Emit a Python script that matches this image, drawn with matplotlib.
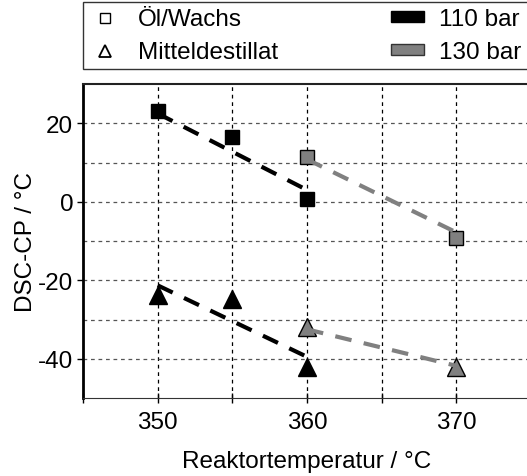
import matplotlib.pyplot as plt
import numpy as np
from matplotlib.lines import Line2D
from matplotlib.patches import Patch

plt.rcParams['font.family'] = ['Liberation Sans', 'DejaVu Sans']
plt.rcParams['axes.unicode_minus'] = False

# Öl/Wachs
oel_110_T = [350, 355, 360]
oel_110_cp = [23.0, 16.5, 0.8]
oel_130_T = [360, 370]
oel_130_cp = [11.4, -9.3]
# Mitteldestillat
md_110_T = [350, 355, 360]
md_110_cp = [-23.7, -24.8, -42.2]
md_130_T = [360, 370]
md_130_cp = [-31.8, -42.2]

# trend lines
oel_110_fit = [22.5, 3.0]
oel_130_fit = [10.8, -7.8]
md_110_fit = [-21.3, -39.5]
md_130_fit = [-32.5, -41.8]

black = 'black'
grey = '#808080'
fs = 17.5

fig = plt.figure(figsize=(5.27, 4.77), dpi=100)
ax = fig.add_axes([0.1575, 0.1635, 0.85, 0.6583])

ax.set_xlim(345, 375)
ax.set_ylim(-50, 30)

# grid
for x in [350, 355, 360, 365, 370]:
    ax.axvline(x, color='black', lw=0.9, ls=(0, (3, 3)), zorder=1)
for y in [20, 10, 0, -10, -20, -30, -40]:
    ax.axhline(y, color='#555555', lw=0.9, ls=(0, (3, 3)), zorder=1)

dash = (0, (4, 3))
ax.plot(md_110_T[::2], md_110_fit, color=black, lw=3, ls=dash, zorder=3)
ax.plot(md_130_T, md_130_fit, color=grey, lw=3, ls=dash, zorder=3)
ax.plot(oel_110_T[::2], oel_110_fit, color=black, lw=3, ls=dash, zorder=3)
ax.plot(oel_130_T, oel_130_fit, color=grey, lw=3, ls=dash, zorder=3)

ax.plot(oel_110_T, oel_110_cp, 's', ms=10.5, mfc=black, mec=black, ls='none', zorder=2)
ax.plot(oel_130_T, oel_130_cp, 's', ms=10.5, mfc=grey, mec=black, mew=1, ls='none', zorder=2)
ax.plot(md_110_T, md_110_cp, '^', ms=12.5, mfc=black, mec=black, ls='none', zorder=2)
ax.plot(md_130_T, md_130_cp, '^', ms=12.5, mfc=grey, mec=black, mew=1, ls='none', zorder=2)

ax.set_xticks([350, 360, 370])
ax.set_xticks([345, 355, 365], minor=True)
ax.set_yticks([20, 0, -20, -40])
ax.tick_params(axis='x', which='both', direction='inout', length=7, width=1, labelsize=fs, pad=6)
ax.tick_params(axis='y', which='major', direction='out', length=4, width=1, labelsize=fs, pad=3)

ax.spines['left'].set_linewidth(2)
ax.spines['top'].set_linewidth(1.5)
ax.spines['top'].set_color('#222222')
ax.spines['bottom'].set_color('#333333')
ax.spines['right'].set_visible(False)

ax.set_xlabel('Reaktortemperatur / °C', fontsize=fs, labelpad=12)
ax.set_ylabel('DSC-CP / °C', fontsize=fs, labelpad=1)

handles = [
    Line2D([], [], marker='s', ls='none', mfc='white', mec='black', ms=7, mew=1),
    Line2D([], [], marker='^', ls='none', mfc='white', mec='black', ms=8.5, mew=1.3),
    Patch(facecolor=black, edgecolor=black),
    Patch(facecolor=grey, edgecolor='#333333'),
]
labels = ['Öl/Wachs', 'Mitteldestillat', '110 bar', '130 bar']
leg = fig.legend(handles, labels, ncol=2, loc='upper left',
                 bbox_to_anchor=(0.1575, 1 - 3 / 477),
                 fontsize=fs, frameon=True, fancybox=False, edgecolor='black',
                 handlelength=1.35, handleheight=0.35, handletextpad=0.65,
                 columnspacing=4.65, borderaxespad=0, labelspacing=0.45,
                 borderpad=0.25)
leg.get_frame().set_linewidth(1)

fig.savefig('out.png', dpi=100)
